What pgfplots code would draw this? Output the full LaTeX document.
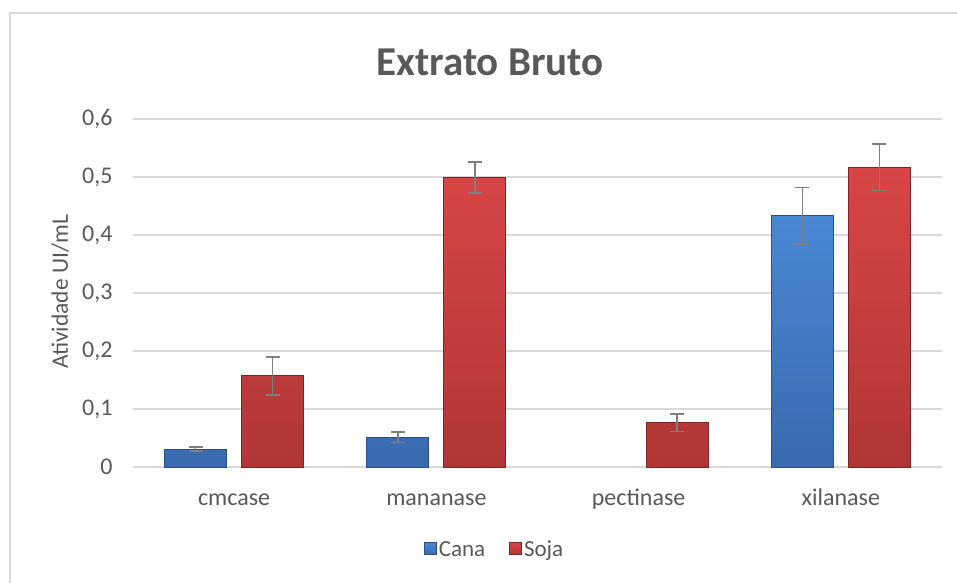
\documentclass[border=0pt]{standalone}
\usepackage{fontspec}
\setmainfont{Carlito}
\usepackage{pgfplots}
\pgfplotsset{compat=1.18}

\definecolor{txt}{HTML}{595959}
\definecolor{gridc}{HTML}{D9D9D9}
\definecolor{errc}{HTML}{7F7F7F}
\definecolor{blueT}{HTML}{4A88D4}
\definecolor{blueB}{HTML}{3A6AAE}
\definecolor{blueD}{HTML}{2A4F86}
\definecolor{redT}{HTML}{D84646}
\definecolor{redB}{HTML}{B03636}
\definecolor{redD}{HTML}{7E2224}

\begin{document}
\begin{tikzpicture}[x=1pt,y=1pt]
\useasboundingbox (0,0) rectangle (957,582);
% chart frame
\draw[gridc, line width=2pt] (10,-2) -- (10,569) -- (960,569);
% title
\node[font=\fontsize{41}{48}\selectfont\bfseries, text=txt] at (490,520) {Extrato Bruto};

\begin{axis}[
    at={(133pt,115pt)}, anchor=south west,
    scale only axis,
    width=809pt, height=348pt,
    ybar=15pt, bar width=62pt,
    xmin=-0.5, xmax=3.5,
    ymin=0, ymax=0.6,
    xtick={0,1,2,3},
    xticklabels={cmcase,mananase,pectinase,xilanase},
    ytick={0,0.1,0.2,0.3,0.4,0.5,0.6},
    /pgf/number format/use comma,
    /pgf/number format/fixed,
    /pgf/number format/precision=1,
    /pgf/number format/assume math mode=true,
    tick label style={font=\fontsize{24}{28}\selectfont, text=txt},
    xticklabel style={anchor=base, yshift=-38pt},
    yticklabel style={xshift=-17pt},
    major tick length=0pt,
    axis x line*=bottom, axis y line*=left,
    x axis line style={gridc, line width=2pt},
    y axis line style={draw=none},
    ymajorgrids, grid style={gridc, line width=1.3pt},
    ylabel={Atividade UI/mL},
    every axis y label/.style={at={(axis description cs:-0.090,0.503)}, rotate=90, anchor=center,
        font=\fontsize{23.5}{28}\selectfont, text=txt},
    legend style={at={(axis description cs:0.447,-0.238)}, anchor=center, draw=none, fill=none,
        font=\fontsize{23}{28}\selectfont, text=txt, legend columns=2,
        /tikz/every even column/.append style={column sep=22pt}},
    legend image code/.code={\draw[#1, line width=0.8pt] (2pt,-5pt) rectangle (14pt,7pt);},
    error bars/error bar style={errc, line width=1.6pt},
    error bars/error mark options={errc, rotate=90, mark size=7pt, line width=1.6pt},
]
\addplot[top color=blueT, bottom color=blueB, draw=blueD, line width=1pt,
    error bars/.cd, y dir=both, y explicit]
  coordinates {
    (0,0.031) +- (0,0.003)
    (1,0.051) +- (0,0.009)
    (3,0.433) +- (0,0.049)
  };
\addlegendentry{Cana}
\addplot[top color=redT, bottom color=redB, draw=redD, line width=1pt,
    error bars/.cd, y dir=both, y explicit]
  coordinates {
    (0,0.157) +- (0,0.033)
    (1,0.499) +- (0,0.027)
    (2,0.076) +- (0,0.015)
    (3,0.517) +- (0,0.040)
  };
\addlegendentry{Soja}
\end{axis}
\end{tikzpicture}
\end{document}
